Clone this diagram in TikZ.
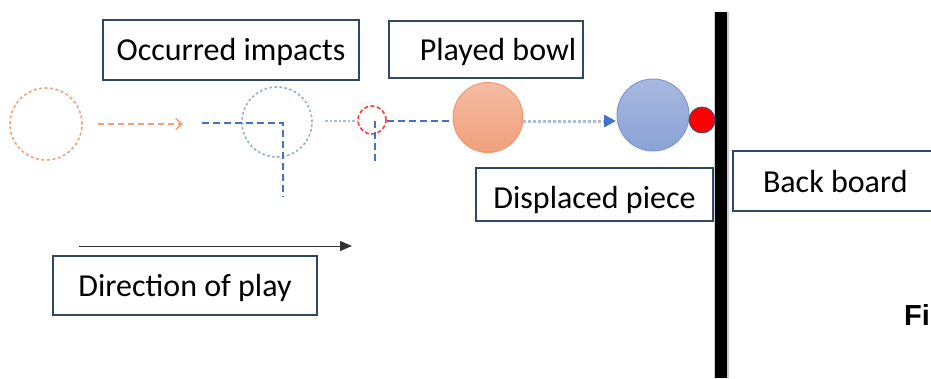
\documentclass[tikz,border=0pt]{standalone}
\usepackage{fontspec}
\setmainfont{Carlito}
\newfontfamily\arialfont{Liberation Sans}
\usetikzlibrary{arrows.meta}
\definecolor{boxline}{HTML}{2E4866}
\definecolor{orangeln}{HTML}{F2A27A}
\definecolor{orangetop}{HTML}{F5BBA2}
\definecolor{orangebot}{HTML}{F0A07C}
\definecolor{orangeedge}{HTML}{EE9A72}
\definecolor{bluedash}{HTML}{4472C4}
\definecolor{bluelight}{HTML}{8FAADC}
\definecolor{bluedot}{HTML}{A9BDE6}
\definecolor{bluetop}{HTML}{A8B8E0}
\definecolor{bluebot}{HTML}{8AA2D6}
\definecolor{blueedge}{HTML}{7F98D0}
\definecolor{reddash}{HTML}{FF3B3B}
\tikzset{
  label box/.style={draw=boxline, line width=2pt, inner sep=0pt, font=\fontsize{32}{36}\selectfont, text=black, text depth=0pt},
  ghostorange/.style={circle, draw=orangeln, line width=1.6pt, dash pattern=on 3pt off 2.5pt, minimum size=72pt, inner sep=0pt},
  ghostblue/.style={circle, draw=bluelight, line width=1.6pt, dash pattern=on 2.5pt off 2.5pt, minimum size=70pt, inner sep=0pt},
  bluedashed/.style={draw=bluedash, line width=1.6pt, dash pattern=on 7pt off 4pt},
}
\begin{document}
\begin{tikzpicture}[x=1pt,y=-1pt]
\useasboundingbox (0,0) rectangle (931,378);
% label boxes
\node[label box, minimum width=256pt, minimum height=60pt, text height=20pt] (occ) at (231,50) {Occurred impacts};
\node[label box, minimum width=194pt, minimum height=57pt, text height=21pt] (pla) at (486,49.5) {\hspace*{24pt}Played bowl};
\node[label box, minimum width=237pt, minimum height=53pt, text height=27pt] (dis) at (594.5,194.5) {Displaced piece};
\node[label box, minimum width=264pt, minimum height=59pt, text height=21pt] (dir) at (185,285.5) {Direction of play};
\node[label box, minimum width=220pt, minimum height=60pt, text height=22pt, anchor=west] (bb) at (732,181) {\hspace*{30pt}Back board\hspace*{48pt}};
% back board line
\fill[gray!40] (713.5,12) rectangle (728.5,378);
\fill[black] (715,12) rectangle (727,378);
% circles
\node[ghostorange] (o1) at (46,124) {};
\node[ghostblue] (b1) at (277,122) {};
\node[circle, draw=reddash, line width=1.6pt, dash pattern=on 4pt off 2.5pt, minimum size=28pt, inner sep=0pt] (r1) at (372,120) {};
\node[circle, draw=orangeedge, line width=1pt, top color=orangetop, bottom color=orangebot, minimum size=70pt, inner sep=0pt] (ob) at (488,117.5) {};
\node[circle, draw=blueedge, line width=1pt, top color=bluetop, bottom color=bluebot, minimum size=72pt, inner sep=0pt] (bb2) at (653,115) {};
\node[circle, draw=bluedash!70!black, line width=0.8pt, fill=red, minimum size=26pt, inner sep=0pt] (rp) at (702,120) {};
% connectors
\coordinate (oa1) at (98,124);
\coordinate (oa2) at (183,124);
\draw[draw=orangeln, line width=1.6pt, dash pattern=on 6pt off 4pt, -{Straight Barb[length=6pt,width=11pt,line width=1.6pt]}] (oa1) -- (oa2);
\coordinate (bh1) at (202,123);
\coordinate (bc) at (283,123);
\coordinate (bv) at (283,197);
\draw[bluedashed] (bh1) -- (bc) -- (bv);
\coordinate (d1) at (325,121);
\coordinate (d2) at (358,121);
\draw[draw=bluedot, line width=2.5pt, dash pattern=on 2.5pt off 2pt] (d1) -- (d2);
\coordinate (rc) at (375,121);
\coordinate (rv) at (375,161);
\draw[bluedashed] (rc) -- (rv);
\coordinate (rh) at (387,121);
\draw[bluedashed] (rh) -- (rh -| ob.west);
\coordinate (da1) at (523,121);
\coordinate (tipend) at (616,121);
\draw[draw=bluedot, line width=3pt, dash pattern=on 3pt off 2pt, -{Triangle[length=12pt,width=12pt,fill=bluedash,color=bluedash]}] (da1) -- (tipend);
% direction of play arrow
\coordinate (dp1) at (79,246);
\coordinate (dp2) at (352,246);
\draw[line width=1pt, black!80, -{Triangle[length=12pt,width=10pt]}] (dp1) -- (dp2);
% Fi caption
\node[anchor=base west, inner sep=0pt, font=\arialfont\bfseries\fontsize{29}{34}\selectfont] (fig) at (904,325) {Fi};
\end{tikzpicture}
\end{document}
